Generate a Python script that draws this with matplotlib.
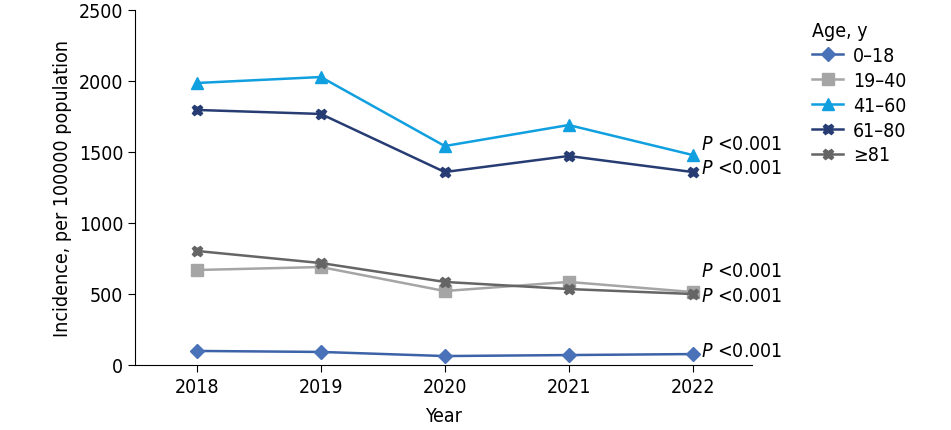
import matplotlib.pyplot as plt
from matplotlib import font_manager

names = {f.name for f in font_manager.fontManager.ttflist}
base = 'Liberation Sans Narrow' if 'Liberation Sans Narrow' in names else 'DejaVu Sans'
plt.rcParams['font.family'] = [base, 'DejaVu Sans']
plt.rcParams['font.stretch'] = 'condensed'

years = [2018, 2019, 2020, 2021, 2022]
age_0_18 = [99, 92, 63, 70, 77]
age_19_40 = [669, 690, 521, 585, 514]
age_41_60 = [1986, 2028, 1542, 1690, 1479]
age_61_80 = [1796, 1768, 1359, 1472, 1359]
age_81 = [803, 718, 585, 535, 500]

series = [
    ('0–18', age_0_18, '#3c62a8', '#4a72b8', 'D', 7),
    ('19–40', age_19_40, '#a5a5a5', '#a5a5a5', 's', 8),
    ('41–60', age_41_60, '#109fdf', '#109fdf', '^', 8.5),
    ('61–80', age_61_80, '#263c73', '#263c73', 'X', 7.5),
    ('≥81', age_81, '#656565', '#656565', 'X', 7.5),
]

fig = plt.figure(figsize=(9.51, 4.31), dpi=100)
ax = fig.add_axes([135 / 951, 65 / 431, 617 / 951, 355 / 431])

for label, vals, lc, mc, mk, ms in series:
    ax.plot(years, vals, color=lc, marker=mk, markersize=ms, markerfacecolor=mc,
            markeredgecolor=mc, linewidth=1.8, label=label)

# p-value labels
p_y = [1560, 1390, 665, 490, 105]
for y in p_y:
    ax.text(2022.07, y, r'$P$ <0.001', fontsize=14, va='center', ha='left')

ax.set_xlim(2017.5, 2022.48)
ax.set_ylim(0, 2500)
ax.set_xticks(years)
ax.set_yticks(range(0, 2501, 500))
ax.spines['top'].set_visible(False)
ax.spines['right'].set_visible(False)
ax.tick_params(labelsize=14, length=5)
ax.set_xlabel('Year', fontsize=14, labelpad=7)
ax.set_ylabel('Incidence, per 100000 population', fontsize=14, labelpad=5)

leg = ax.legend(title='Age, y', loc='upper left', bbox_to_anchor=(1.085, 0.99),
                frameon=False, fontsize=14, title_fontsize=14,
                handlelength=1.6, handletextpad=0.5, labelspacing=0.3,
                borderaxespad=0)
leg._legend_box.align = 'left'

fig.savefig('out.png', dpi=100)
